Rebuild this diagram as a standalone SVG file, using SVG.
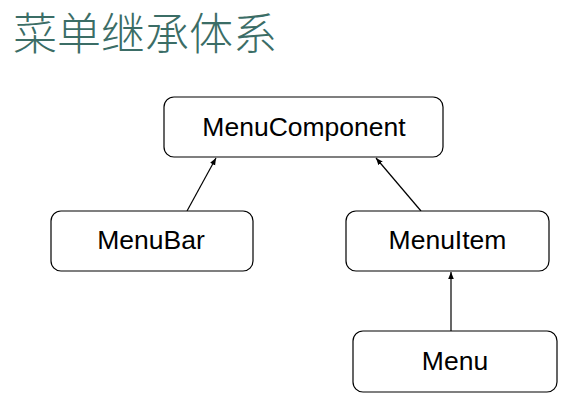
<svg xmlns="http://www.w3.org/2000/svg" width="578" height="413" viewBox="0 0 578 413">
<style>
.box{fill:#fff;stroke:#000;stroke-width:1.2}
.lbl{font-family:"Liberation Sans",Arial,sans-serif;font-size:26.5px;fill:#000;text-anchor:middle}
.title{font-family:"Noto Sans CJK SC",sans-serif;font-size:44px;font-weight:300;fill:#3b6d66}
.conn{stroke:#000;stroke-width:1.2;fill:none;marker-end:url(#arr)}
</style>
<defs>
<marker id="arr" viewBox="0 0 10 10" refX="10" refY="5" markerWidth="7" markerHeight="7" markerUnits="userSpaceOnUse" orient="auto">
<path d="M0,1 L10,5 L0,9 z" fill="#000"/>
</marker>
</defs>
<rect width="578" height="413" fill="#fff"/>
<text class="title" x="13" y="50">菜单继承体系</text>
<g id="connectors">
<line class="conn" x1="187" y1="211" x2="216" y2="158"/>
<line class="conn" x1="421" y1="211" x2="376" y2="158"/>
<line class="conn" x1="451" y1="331" x2="451" y2="272"/>
</g>
<g id="MenuComponent">
<rect class="box" x="164" y="97" width="279" height="60" rx="10"/>
<text class="lbl" x="304" y="136">MenuComponent</text>
</g>
<g id="MenuBar">
<rect class="box" x="51" y="211" width="202" height="60" rx="10"/>
<text class="lbl" x="151" y="249">MenuBar</text>
</g>
<g id="MenuItem">
<rect class="box" x="346" y="211" width="203" height="60" rx="10"/>
<text class="lbl" x="447.5" y="249">MenuItem</text>
</g>
<g id="Menu">
<rect class="box" x="353" y="331" width="204" height="61" rx="10"/>
<text class="lbl" x="455" y="370">Menu</text>
</g>
</svg>
